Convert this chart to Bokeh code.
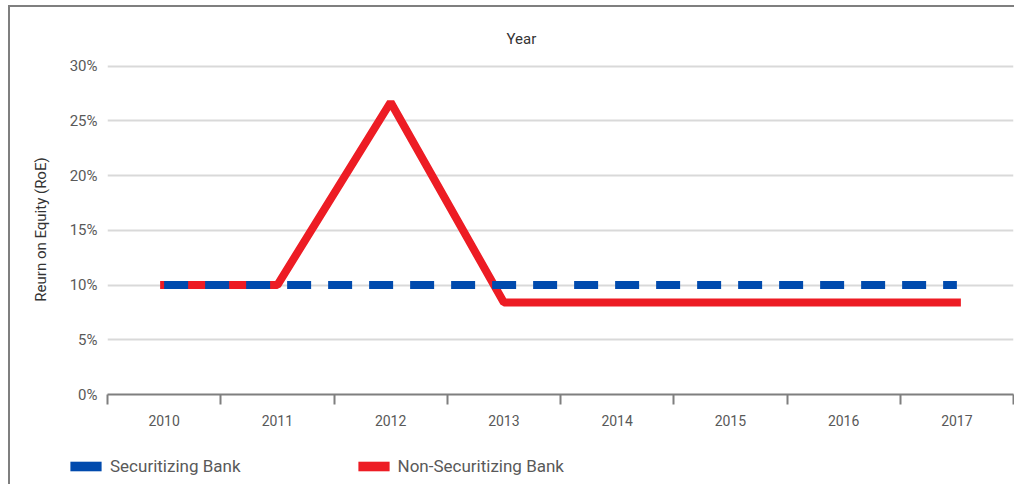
from bokeh.plotting import figure
from bokeh.layouts import column
from bokeh.models import (Range1d, FixedTicker, LinearAxis, Legend, LegendItem,
                          ColumnDataSource, PrintfTickFormatter, Title)
from bokeh.embed import file_html
from bokeh.resources import INLINE

years = ["2010", "2011", "2012", "2013", "2014", "2015", "2016", "2017"]
securitizing = [10, 10, 10, 10, 10, 10, 10, 10]
non_securitizing = [10, 10, 26.7, 8.4, 8.4, 8.4, 8.4, 8.4]
y_ticks = [0, 5, 10, 15, 20, 25, 30]

FONT = "Roboto"
BLUE = "#004AAD"
RED = "#ED1C24"

xs = [i + 0.5 for i in range(len(years))]
src = ColumnDataSource(dict(x=xs, sec=securitizing, non=non_securitizing))

p = figure(width=1004, height=437, output_backend="svg", toolbar_location=None,
           x_range=Range1d(0, len(years)), y_range=Range1d(0, 30.15),
           min_border_left=97, min_border_right=1, min_border_top=57, min_border_bottom=50,
           outline_line_color=None, x_axis_location=None, y_axis_location=None)

p.title = Title(text="Year", align="left", offset=399, text_font=FONT,
                text_font_size="15px", text_font_style="normal", text_color="#333333",
                standoff=33)

r_non = p.line("x", "non", source=src, line_color=RED, line_width=8, line_cap="square")
r_sec = p.line("x", "sec", source=src, line_color=BLUE, line_width=8, line_dash="24 17")

xaxis = LinearAxis(ticker=FixedTicker(ticks=xs, minor_ticks=list(range(len(years) + 1))),
                   major_label_overrides={x: y for x, y in zip(xs, years)})
xaxis.major_tick_line_color = None
xaxis.major_tick_out = 0
xaxis.minor_tick_line_color = "#7f7f7f"
xaxis.minor_tick_line_width = 2
xaxis.minor_tick_out = 10
xaxis.minor_tick_in = 0
xaxis.axis_line_color = "#7f7f7f"
xaxis.axis_line_width = 2
xaxis.major_label_standoff = 10
xaxis.major_label_text_font = FONT
xaxis.major_label_text_font_size = "14px"
xaxis.major_label_text_color = "#595959"
p.add_layout(xaxis, "below")

yaxis = LinearAxis(ticker=FixedTicker(ticks=y_ticks), formatter=PrintfTickFormatter(format="%d%%"),
                   axis_label="Reurn on Equity (RoE)")
yaxis.axis_line_color = None
yaxis.major_tick_line_color = None
yaxis.minor_tick_line_color = None
yaxis.major_tick_out = 0
yaxis.major_label_standoff = 10
yaxis.major_label_text_font = FONT
yaxis.major_label_text_font_size = "15px"
yaxis.major_label_text_color = "#595959"
yaxis.axis_label_text_font = FONT
yaxis.axis_label_text_font_size = "15px"
yaxis.axis_label_text_font_style = "normal"
yaxis.axis_label_text_color = "#333333"
yaxis.axis_label_standoff = 17
p.add_layout(yaxis, "left")

p.xgrid.visible = False
p.ygrid.ticker = FixedTicker(ticks=y_ticks[1:])
p.ygrid.grid_line_color = "#d9d9d9"
p.ygrid.grid_line_width = 2

# legend strip
lf = figure(width=1004, height=40, output_backend="svg", toolbar_location=None,
            x_range=Range1d(0, 1), y_range=Range1d(0, 1),
            min_border=0, outline_line_color=None, x_axis_location=None, y_axis_location=None)
lf.frame_align = False
lf.grid.visible = False
nan = float("nan")
dummy = ColumnDataSource(dict(left=[nan], right=[nan], top=[nan], bottom=[nan]))
leg_sec = lf.quad(left="left", right="right", top="top", bottom="bottom", source=dummy,
                  fill_color=BLUE, line_color=None)
leg_non = lf.quad(left="left", right="right", top="top", bottom="bottom", source=dummy,
                  fill_color=RED, line_color=None)
legend = Legend(items=[LegendItem(label="Securitizing Bank", renderers=[leg_sec]),
                       LegendItem(label="Non-Securitizing Bank", renderers=[leg_non])],
                orientation="horizontal", location=(56, 8),
                glyph_width=39, glyph_height=12, label_standoff=5, spacing=113,
                padding=0, margin=0, border_line_color=None, background_fill_alpha=0,
                label_text_font=FONT, label_text_font_size="17px", label_text_color="#595959")
lf.add_layout(legend, "center")

layout = column(p, lf, spacing=0)
layout.styles = {"border-top": "2px solid #7f7f7f", "border-left": "2px solid #7f7f7f",
                 "margin-left": "8px", "margin-top": "5px"}

open("out.html", "w").write(file_html(layout, INLINE))
